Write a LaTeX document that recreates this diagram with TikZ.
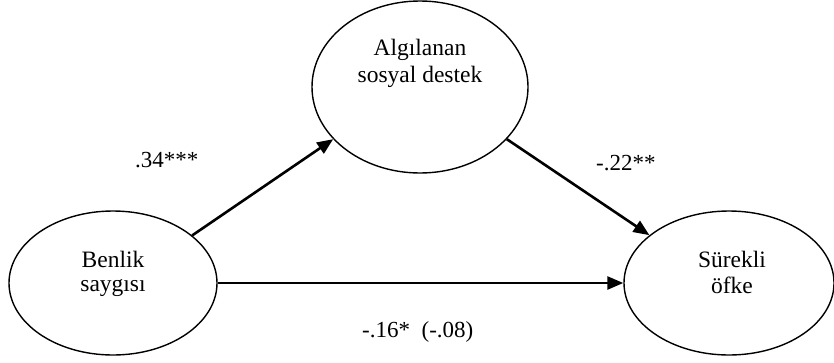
\documentclass[tikz,border=0pt]{standalone}
\usepackage{fontspec}
\setmainfont{Liberation Serif}
\usetikzlibrary{shapes.geometric,arrows.meta}
\tikzset{
  var/.style={draw, ellipse, line width=1.4pt, inner sep=0pt},
  txt/.style={anchor=base, inner sep=0pt, font=\fontsize{23.5}{26}\selectfont},
  lbl/.style={anchor=base west, inner sep=0pt, font=\fontsize{23}{26}\selectfont},
  path/.style={line width=2.6pt, -{Triangle[length=16pt,width=13pt]}}
}
\begin{document}
\begin{tikzpicture}[x=1pt,y=-1pt]
\useasboundingbox (0,0) rectangle (834,362);
\node[var, minimum width=208pt, minimum height=144pt] (left) at (113,283) {};
\node[var, minimum width=216pt, minimum height=172pt] (top) at (420,87) {};
\node[var, minimum width=210pt, minimum height=144pt] (right) at (729,283) {};
\node[txt] (t1a) at (113,267) {Benlik};
\node[txt] (t1b) at (113,291) {saygısı};
\node[txt] (t2a) at (420,55) {Algılanan};
\node[txt] (t2b) at (420,82) {sosyal destek};
\node[txt] (t3a) at (732,267) {Sürekli};
\node[txt] (t3b) at (732,293) {öfke};
\draw[path] (left.31) -- (top.211);
\draw[path] (top.-31) -- (right.149);
\draw[path] (left.east) -- (right.west);
\node[lbl] (l1) at (135,167) {.34***};
\node[lbl] (l2) at (596,170) {-.22**};
\node[lbl] (l3) at (362,337) {-.16*\ \ (-.08)};
\end{tikzpicture}
\end{document}
